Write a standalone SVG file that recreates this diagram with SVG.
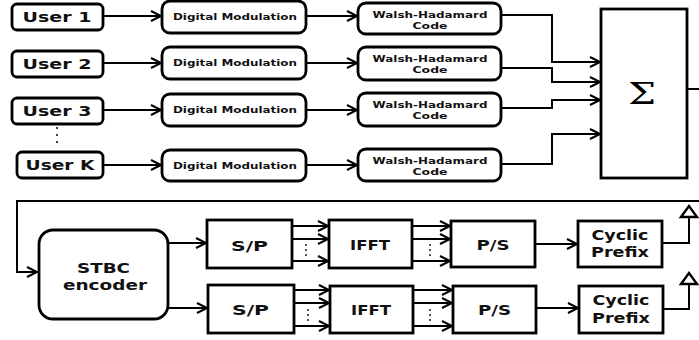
<svg xmlns="http://www.w3.org/2000/svg" width="699" height="340" viewBox="0 0 699 340">
<style>
.box{fill:#fff;stroke:#000;stroke-width:2.8}
.ln{fill:none;stroke:#000;stroke-width:2}
.t{font-family:"DejaVu Sans",Verdana,sans-serif;font-weight:bold;fill:#111;text-anchor:middle}
.u{font-size:14.5px}
.s{font-size:9px}
.b{font-size:14px}
.dot{fill:#000}
</style>
<defs>
<marker id="ar" markerUnits="userSpaceOnUse" markerWidth="14" markerHeight="14" refX="11" refY="6" orient="auto" overflow="visible">
<path d="M1,1 L11,6 L1,11" fill="none" stroke="#000" stroke-width="2"/>
</marker>
</defs>
<rect width="699" height="340" fill="#fff"/>

<g id="user1"><rect class="box" x="12" y="4" width="91" height="26" rx="5"/><text class="t u" x="57" y="22" textLength="69" lengthAdjust="spacingAndGlyphs">User 1</text></g>
<g id="user2"><rect class="box" x="12" y="51" width="91" height="26" rx="5"/><text class="t u" x="57" y="69" textLength="69" lengthAdjust="spacingAndGlyphs">User 2</text></g>
<g id="user3"><rect class="box" x="12" y="98" width="91" height="26" rx="5"/><text class="t u" x="57" y="116" textLength="69" lengthAdjust="spacingAndGlyphs">User 3</text></g>
<g id="dots-users"><circle class="dot" cx="57" cy="128" r="1"/><circle class="dot" cx="57" cy="135" r="1"/><circle class="dot" cx="57" cy="142" r="1"/></g>
<g id="userK"><rect class="box" x="17" y="152" width="86" height="26" rx="5"/><text class="t u" x="60" y="170" textLength="69" lengthAdjust="spacingAndGlyphs">User K</text></g>

<g id="dm1"><rect class="box" x="162" y="1" width="144" height="32" rx="8"/><text class="t s" x="235" y="20" textLength="124" lengthAdjust="spacingAndGlyphs">Digital Modulation</text></g>
<g id="dm2"><rect class="box" x="162" y="47" width="144" height="32" rx="8"/><text class="t s" x="235" y="66" textLength="124" lengthAdjust="spacingAndGlyphs">Digital Modulation</text></g>
<g id="dm3"><rect class="box" x="162" y="94" width="144" height="32" rx="8"/><text class="t s" x="235" y="113" textLength="124" lengthAdjust="spacingAndGlyphs">Digital Modulation</text></g>
<g id="dm4"><rect class="box" x="162" y="150" width="144" height="31" rx="8"/><text class="t s" x="235" y="169" textLength="124" lengthAdjust="spacingAndGlyphs">Digital Modulation</text></g>

<g id="wh1"><rect class="box" x="358" y="3" width="143" height="31" rx="8"/><text class="t s" x="430" y="18" textLength="115" lengthAdjust="spacingAndGlyphs">Walsh-Hadamard</text><text class="t s" x="430" y="29" textLength="35" lengthAdjust="spacingAndGlyphs">Code</text></g>
<g id="wh2"><rect class="box" x="358" y="47" width="143" height="33" rx="8"/><text class="t s" x="430" y="62" textLength="115" lengthAdjust="spacingAndGlyphs">Walsh-Hadamard</text><text class="t s" x="430" y="73" textLength="35" lengthAdjust="spacingAndGlyphs">Code</text></g>
<g id="wh3"><rect class="box" x="358" y="93" width="143" height="33" rx="8"/><text class="t s" x="430" y="108" textLength="115" lengthAdjust="spacingAndGlyphs">Walsh-Hadamard</text><text class="t s" x="430" y="119" textLength="35" lengthAdjust="spacingAndGlyphs">Code</text></g>
<g id="wh4"><rect class="box" x="358" y="149" width="143" height="32" rx="8"/><text class="t s" x="430" y="164" textLength="115" lengthAdjust="spacingAndGlyphs">Walsh-Hadamard</text><text class="t s" x="430" y="175" textLength="35" lengthAdjust="spacingAndGlyphs">Code</text></g>

<g id="sum"><rect class="box" x="601" y="9" width="86" height="169"/><text x="642" y="104" font-family="'DejaVu Serif','Liberation Serif',serif" font-weight="normal" font-size="30" text-anchor="middle" textLength="28" lengthAdjust="spacingAndGlyphs" fill="#000">Σ</text></g>

<g id="stbc"><rect class="box" x="39" y="230" width="129" height="89" rx="14"/><text class="t b" x="103.5" y="273" textLength="53" lengthAdjust="spacingAndGlyphs">STBC</text><text class="t b" x="105" y="290" textLength="84" lengthAdjust="spacingAndGlyphs">encoder</text></g>

<g id="sp1"><rect class="box" x="207" y="220" width="85" height="48"/><text class="t b" x="249.5" y="251" textLength="37" lengthAdjust="spacingAndGlyphs">S/P</text></g>
<g id="sp2"><rect class="box" x="208" y="285" width="86" height="48"/><text class="t b" x="250.5" y="315" textLength="37" lengthAdjust="spacingAndGlyphs">S/P</text></g>
<g id="ifft1"><rect class="box" x="329" y="220" width="83" height="48"/><text class="t b" x="370" y="250" textLength="40" lengthAdjust="spacingAndGlyphs">IFFT</text></g>
<g id="ifft2"><rect class="box" x="330" y="286" width="83" height="47"/><text class="t b" x="371" y="315" textLength="40" lengthAdjust="spacingAndGlyphs">IFFT</text></g>
<g id="ps1"><rect class="box" x="451" y="221" width="84" height="46"/><text class="t b" x="493" y="250" textLength="33" lengthAdjust="spacingAndGlyphs">P/S</text></g>
<g id="ps2"><rect class="box" x="453" y="286" width="83" height="47"/><text class="t b" x="494.5" y="315" textLength="33" lengthAdjust="spacingAndGlyphs">P/S</text></g>
<g id="cp1"><rect class="box" x="578" y="221" width="84" height="46"/><text class="t b" x="620" y="240" textLength="57" lengthAdjust="spacingAndGlyphs">Cyclic</text><text class="t b" x="620" y="257" textLength="58" lengthAdjust="spacingAndGlyphs">Prefix</text></g>
<g id="cp2"><rect class="box" x="579" y="286" width="84" height="47"/><text class="t b" x="621" y="305" textLength="57" lengthAdjust="spacingAndGlyphs">Cyclic</text><text class="t b" x="621" y="323" textLength="58" lengthAdjust="spacingAndGlyphs">Prefix</text></g>

<g id="ant1"><polygon points="681,217 689,206 697,217" fill="#fff" stroke="#000" stroke-width="2.4"/></g>
<g id="ant2"><polygon points="681,284 689,273 697,284" fill="#fff" stroke="#000" stroke-width="2.4"/></g>

<g id="connectors">
<line class="ln" x1="103" y1="16" x2="161" y2="16" marker-end="url(#ar)"/>
<line class="ln" x1="103" y1="63" x2="161" y2="63" marker-end="url(#ar)"/>
<line class="ln" x1="103" y1="110" x2="161" y2="110" marker-end="url(#ar)"/>
<line class="ln" x1="103" y1="165" x2="161" y2="165" marker-end="url(#ar)"/>
<line class="ln" x1="306" y1="16" x2="357" y2="16" marker-end="url(#ar)"/>
<line class="ln" x1="306" y1="63" x2="357" y2="63" marker-end="url(#ar)"/>
<line class="ln" x1="306" y1="110" x2="357" y2="110" marker-end="url(#ar)"/>
<line class="ln" x1="306" y1="165" x2="357" y2="165" marker-end="url(#ar)"/>
<polyline class="ln" points="501,15 552,15 552,62 600,62" marker-end="url(#ar)"/>
<polyline class="ln" points="501,68 552,68 552,82 600,82" marker-end="url(#ar)"/>
<polyline class="ln" points="501,108 552,108 552,100 600,100" marker-end="url(#ar)"/>
<polyline class="ln" points="501,164 552,164 552,134 600,134" marker-end="url(#ar)"/>
<line class="ln" x1="687" y1="89" x2="699" y2="89"/>
<polyline class="ln" points="699,201 17,201 17,272 37,272" marker-end="url(#ar)"/>
<line class="ln" x1="168" y1="243" x2="206" y2="243" marker-end="url(#ar)"/>
<line class="ln" x1="168" y1="308" x2="207" y2="308" marker-end="url(#ar)"/>
<line class="ln" x1="292" y1="226" x2="328" y2="226" marker-end="url(#ar)"/>
<line class="ln" x1="292" y1="239" x2="328" y2="239" marker-end="url(#ar)"/>
<line class="ln" x1="292" y1="261" x2="328" y2="261" marker-end="url(#ar)"/>
<line class="ln" x1="294" y1="290" x2="329" y2="290" marker-end="url(#ar)"/>
<line class="ln" x1="294" y1="303" x2="329" y2="303" marker-end="url(#ar)"/>
<line class="ln" x1="294" y1="326" x2="329" y2="326" marker-end="url(#ar)"/>
<line class="ln" x1="412" y1="226" x2="450" y2="226" marker-end="url(#ar)"/>
<line class="ln" x1="412" y1="239" x2="450" y2="239" marker-end="url(#ar)"/>
<line class="ln" x1="412" y1="261" x2="450" y2="261" marker-end="url(#ar)"/>
<line class="ln" x1="413" y1="290" x2="452" y2="290" marker-end="url(#ar)"/>
<line class="ln" x1="413" y1="303" x2="452" y2="303" marker-end="url(#ar)"/>
<line class="ln" x1="413" y1="326" x2="452" y2="326" marker-end="url(#ar)"/>
<line class="ln" x1="535" y1="244" x2="577" y2="244" marker-end="url(#ar)"/>
<line class="ln" x1="536" y1="308" x2="578" y2="308" marker-end="url(#ar)"/>
<polyline class="ln" points="662,243 689,243 689,217"/>
<polyline class="ln" points="663,309 689,309 689,284"/>
<g id="dots-bus">
<circle class="dot" cx="306" cy="245" r="0.9"/><circle class="dot" cx="306" cy="250" r="0.9"/><circle class="dot" cx="306" cy="255" r="0.9"/>
<circle class="dot" cx="430" cy="245" r="0.9"/><circle class="dot" cx="430" cy="250" r="0.9"/><circle class="dot" cx="430" cy="255" r="0.9"/>
<circle class="dot" cx="308" cy="310" r="0.9"/><circle class="dot" cx="308" cy="315" r="0.9"/><circle class="dot" cx="308" cy="320" r="0.9"/>
<circle class="dot" cx="430" cy="310" r="0.9"/><circle class="dot" cx="430" cy="315" r="0.9"/><circle class="dot" cx="430" cy="320" r="0.9"/>
</g>
</g>
</svg>
